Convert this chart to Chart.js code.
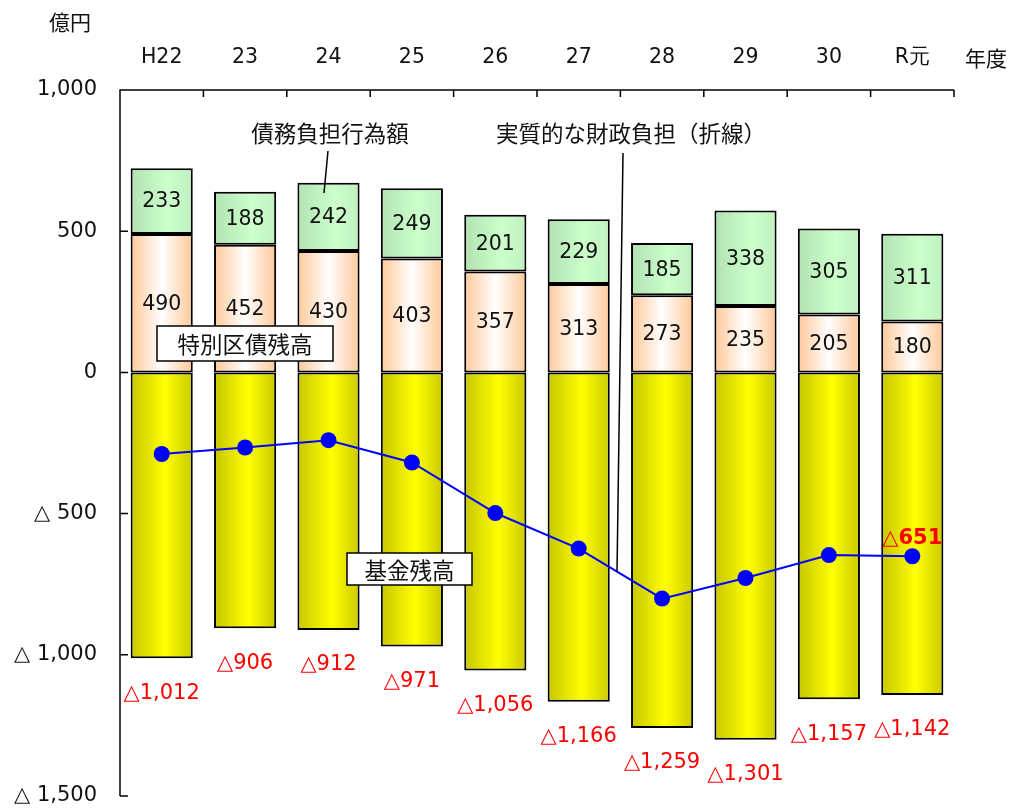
<!DOCTYPE html>
<html>
<head>
<meta charset="utf-8">
<script src="https://cdn.jsdelivr.net/npm/chart.js@4"></script>
<style>
  html, body { margin: 0; padding: 0; background: #fff; }
  #wrap { width: 1012px; height: 810px; }
</style>
</head>
<body>
<div id="wrap"><canvas id="chart" width="1012" height="810"></canvas></div>
<script>
// 年度
const years = ['H22', '23', '24', '25', '26', '27', '28', '29', '30', 'R元'];
// 基金残高（億円）
const fundBalance = [-1012, -906, -912, -971, -1056, -1166, -1259, -1301, -1157, -1142];
// 特別区債残高
const bondBalance = [490, 452, 430, 403, 357, 313, 273, 235, 205, 180];
// 債務負担行為額
const debtBurden = [233, 188, 242, 249, 201, 229, 185, 338, 305, 311];
// 実質的な財政負担（折線）
const realBurden = [-289, -266, -240, -319, -498, -624, -801, -728, -647, -651];
const yMin = -1500, yMax = 1000, yStep = 500;

const NUM_FONT = '"DejaVu Sans", Verdana, sans-serif';
const JP_FONT = '"Noto Sans CJK JP", "Noto Sans", sans-serif';
const BAR_PCT = 0.745;

function fmt(v) {
    return (v < 0 ? '△' : '') + Math.abs(v).toLocaleString('en-US');
}

// 棒の横方向グラデーション
function barGrad(stops) {
    return function(ctx) {
        const chart = ctx.chart;
        const xs = chart.scales.x;
        if (!xs || ctx.dataIndex === undefined) return stops[1][1];
        const cx = xs.getPixelForValue(ctx.dataIndex);
        const half = (xs.width / years.length) * BAR_PCT / 2;
        if (!isFinite(cx) || !isFinite(half) || half <= 0) return stops[1][1];
        const g = chart.ctx.createLinearGradient(cx - half, 0, cx + half, 0);
        stops.forEach(s => g.addColorStop(s[0], s[1]));
        return g;
    };
}

// 軸線・内向き目盛り
const axisPlugin = {
    id: 'axisLines',
    afterDatasetsDraw(chart) {
        const c = chart.ctx;
        const { left, right, top, bottom } = chart.chartArea;
        const ys = chart.scales.y;
        c.save();
        c.strokeStyle = '#000';
        c.lineWidth = 1.5;
        c.beginPath();
        c.moveTo(left, bottom); c.lineTo(left, top); c.lineTo(right, top);
        for (let v = yMin; v <= yMax; v += yStep) {
            const y = ys.getPixelForValue(v);
            c.moveTo(left, y); c.lineTo(left + 8, y);
        }
        const w = (right - left) / years.length;
        for (let i = 1; i <= years.length; i++) {
            const x = left + i * w;
            c.moveTo(x, top); c.lineTo(x, top + 7);
        }
        c.stroke();
        c.restore();
    }
};

// 数値ラベル・注記
const labelPlugin = {
    id: 'valueLabels',
    afterDatasetsDraw(chart) {
        const c = chart.ctx;
        c.save();
        c.textAlign = 'center';
        c.textBaseline = 'middle';

        // 積み上げ部分の数値
        c.font = '20.5px ' + NUM_FONT;
        c.fillStyle = '#111';
        [1, 2].forEach(di => {
            const meta = chart.getDatasetMeta(di);
            const vals = chart.data.datasets[di].data;
            meta.data.forEach((el, i) => {
                c.fillText(String(vals[i]), el.x, (el.y + el.base) / 2 + 1);
            });
        });

        // 基金残高（赤）
        c.fillStyle = '#FF0000';
        c.font = '21px ' + NUM_FONT;
        chart.getDatasetMeta(0).data.forEach((el, i) => {
            c.fillText(fmt(fundBalance[i]), el.x, el.y + 35);
        });

        // 最終年度の実質負担
        const lineMeta = chart.getDatasetMeta(3);
        const last = lineMeta.data[lineMeta.data.length - 1];
        c.font = 'bold 21px ' + NUM_FONT;
        c.fillText(fmt(realBurden[realBurden.length - 1]), last.x, last.y - 18);

        // 囲みラベル
        c.font = '22.5px ' + JP_FONT;
        const box = (text, x0, y0, x1, y1) => {
            c.fillStyle = '#fff';
            c.fillRect(x0, y0, x1 - x0, y1 - y0);
            c.strokeStyle = '#000';
            c.lineWidth = 1.5;
            c.strokeRect(x0, y0, x1 - x0, y1 - y0);
            c.fillStyle = '#111';
            c.fillText(text, (x0 + x1) / 2, (y0 + y1) / 2 + 1);
        };
        box('特別区債残高', 157, 326, 333, 361);
        box('基金残高', 347, 553, 472, 585);

        // 引き出し線付きラベル
        c.fillStyle = '#111';
        c.fillText('債務負担行為額', 330, 133);
        c.fillText('実質的な財政負担（折線）', 631, 133);
        c.strokeStyle = '#000';
        c.lineWidth = 1.5;
        c.beginPath();
        c.moveTo(328, 151); c.lineTo(324, 193);
        c.moveTo(623, 153); c.lineTo(617, 572);
        c.stroke();

        // 単位
        c.font = '21px ' + JP_FONT;
        c.fillText('億円', 70, 22);
        c.fillText('年度', 986, 58);
        c.restore();
    }
};

const chart = new Chart(document.getElementById('chart'), {
    data: {
        labels: years,
        datasets: [
            {
                type: 'bar', label: '基金残高', data: fundBalance, order: 1,
                backgroundColor: barGrad([[0, '#C6C600'], [0.55, '#FFFF00'], [1, '#CACA00']]),
                borderColor: '#000', borderWidth: 2, borderSkipped: false
            },
            {
                type: 'bar', label: '特別区債残高', data: bondBalance, order: 1,
                backgroundColor: barGrad([[0, '#FFC898'], [0.5, '#FFFFFF'], [1, '#FFC898']]),
                borderColor: '#000', borderWidth: 2, borderSkipped: false
            },
            {
                type: 'bar', label: '債務負担行為額', data: debtBurden, order: 1,
                backgroundColor: barGrad([[0, '#B2E2B2'], [0.6, '#CCFFCC'], [1, '#C0F0C0']]),
                borderColor: '#000', borderWidth: 2, borderSkipped: false
            },
            {
                type: 'line', label: '実質的な財政負担', data: realBurden, order: 0, stack: 'line',
                borderColor: '#0000FF', borderWidth: 2, backgroundColor: '#0000FF',
                pointRadius: 8, pointBorderWidth: 0, pointBackgroundColor: '#0000FF',
                tension: 0, fill: false
            }
        ]
    },
    options: {
        responsive: false,
        animation: false,
        events: [],
        layout: { padding: { left: 0, top: 0, right: 58, bottom: 14 } },
        datasets: { bar: { categoryPercentage: 1, barPercentage: BAR_PCT } },
        plugins: { legend: { display: false }, tooltip: { enabled: false } },
        scales: {
            x: {
                position: 'top',
                stacked: true,
                grid: { display: false, drawTicks: false },
                border: { display: false },
                ticks: { color: '#111', font: { family: NUM_FONT, size: 20.5 }, padding: 20, maxRotation: 0 },
                afterFit: s => { s.height = 90; s.paddingLeft = 0; s.paddingRight = 0; }
            },
            y: {
                stacked: true,
                min: yMin, max: yMax,
                grid: { display: false, drawTicks: false },
                border: { display: false },
                ticks: {
                    stepSize: yStep,
                    color: '#111',
                    font: { family: NUM_FONT, size: 21 },
                    padding: 23,
                    callback: v => (v < 0 ? '△ ' : '') + Math.abs(v).toLocaleString('en-US')
                },
                afterFit: s => { s.width = 120; s.paddingTop = 0; s.paddingBottom = 0; }
            }
        }
    },
    plugins: [axisPlugin, labelPlugin]
});
</script>
</body>
</html>
